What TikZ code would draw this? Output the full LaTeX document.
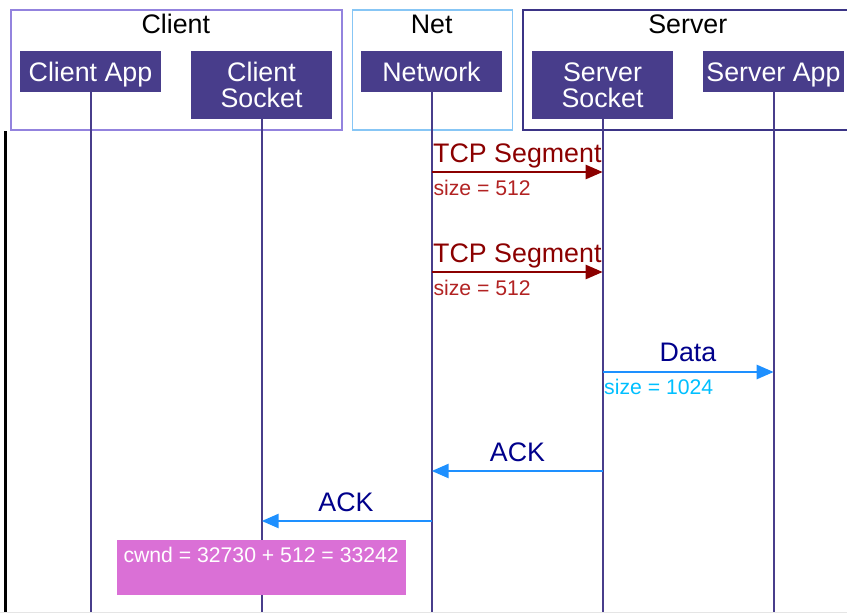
\documentclass[tikz,border=0pt]{standalone}
\usepackage{fontspec}
\setmainfont{Liberation Sans}
\usetikzlibrary{arrows.meta}
\definecolor{actorfill}{HTML}{483D8B}
\definecolor{clientc}{HTML}{9383DE}
\definecolor{netc}{HTML}{87C6F5}
\definecolor{serverc}{HTML}{3B3486}
\definecolor{tcpc}{HTML}{8B0000}
\definecolor{tcpsize}{HTML}{B22222}
\definecolor{bluearrow}{HTML}{1E90FF}
\definecolor{navylbl}{HTML}{00008B}
\definecolor{skysize}{HTML}{00BFFF}
\definecolor{notefill}{HTML}{DA70D6}
\tikzset{
  grp/.style={draw, line width=1.4pt, fill=none, inner sep=0pt, anchor=north west},
  glabel/.style={inner sep=0pt, anchor=base, font=\fontsize{26.8}{27}\selectfont, text=black},
  actor/.style={fill=actorfill, draw=none, inner sep=0pt, minimum width=141pt, anchor=north west},
  atext/.style={inner sep=0pt, anchor=base, font=\fontsize{26.8}{27}\selectfont, text=white},
  life/.style={draw=actorfill, line width=2pt},
  tcpmsg/.style={draw=tcpc, line width=2.6pt, -{Triangle[length=17pt,width=14pt]}},
  bluemsg/.style={draw=bluearrow, line width=2.6pt, -{Triangle[length=17pt,width=14pt]}},
  mlabel/.style={inner sep=0pt, font=\fontsize{26.8}{27}\selectfont},
  slabel/.style={inner sep=0pt, anchor=base west, font=\fontsize{21.2}{22}\selectfont},
  notebox/.style={fill=notefill, draw=none, inner sep=0pt, anchor=north west},
}
\begin{document}
\begin{tikzpicture}[x=1pt,y=-1pt]
\useasboundingbox (0,0) rectangle (847,613);
% group boxes
\node[grp, draw=clientc, minimum width=331pt, minimum height=120pt] (gclient) at (10.3,9.3) {};
\node[grp, draw=netc, minimum width=160pt, minimum height=120pt] (gnet) at (351.7,9.3) {};
\node[grp, draw=serverc, minimum width=331pt, minimum height=120pt] (gserver) at (522.3,9.3) {};
\node[glabel] (gclient-l) at (175.8,33.3) {Client};
\node[glabel] (gnet-l) at (431.7,33.3) {Net};
\node[glabel] (gserver-l) at (687.8,33.3) {Server};
% actor boxes
\node[actor, minimum height=41pt] (ca) at (20,51) {};
\node[actor, minimum height=67.7pt] (cs) at (191,51) {};
\node[actor, minimum height=41pt] (nw) at (361,51) {};
\node[actor, minimum height=67.7pt] (ss) at (532,51) {};
\node[actor, minimum height=41pt] (sa) at (703,51) {};
\node[atext] (ca-t) at (90.5,81) {Client App};
\node[atext] (cs-t1) at (261.5,81) {Client};
\node[atext] (cs-t2) at (261.5,107.5) {Socket};
\node[atext] (nw-t) at (431.5,81) {Network};
\node[atext] (ss-t1) at (602.5,81) {Server};
\node[atext] (ss-t2) at (602.5,107.5) {Socket};
\node[atext] (sa-t) at (773.5,81) {Server App};
% lifeline ends
\coordinate (ca-e) at (ca.south |- 0,613);
\coordinate (cs-e) at (cs.south |- 0,613);
\coordinate (nw-e) at (nw.south |- 0,613);
\coordinate (ss-e) at (ss.south |- 0,613);
\coordinate (sa-e) at (sa.south |- 0,613);
\draw[life] (ca.south) -- (ca-e);
\draw[life] (cs.south) -- (cs-e);
\draw[life] (nw.south) -- (nw-e);
\draw[life] (ss.south) -- (ss-e);
\draw[life] (sa.south) -- (sa-e);
% left black rule and bottom border
\coordinate (lb-t) at (5.5,131);
\coordinate (lb-b) at (5.5,613);
\draw[line width=3pt, black] (lb-t) -- (lb-b);
\coordinate (bb-l) at (0,612.5);
\coordinate (bb-r) at (847,612.5);
\draw[line width=1pt, black!10] (bb-l) -- (bb-r);
% message 1
\coordinate (m1a) at (nw.south |- 0,172);
\coordinate (m1b) at (ss.south |- 0,172);
\draw[tcpmsg] (m1a) -- (m1b);
\node[mlabel, anchor=base west, text=tcpc] (m1l) at (433,162.3) {TCP Segment};
\node[slabel, text=tcpsize] (m1s) at (433.3,195) {size = 512};
% message 2
\coordinate (m2a) at (nw.south |- 0,272);
\coordinate (m2b) at (ss.south |- 0,272);
\draw[tcpmsg] (m2a) -- (m2b);
\node[mlabel, anchor=base west, text=tcpc] (m2l) at (433,262) {TCP Segment};
\node[slabel, text=tcpsize] (m2s) at (433.3,295) {size = 512};
% message 3
\coordinate (m3a) at (ss.south |- 0,372);
\coordinate (m3b) at (sa.south |- 0,372);
\draw[bluemsg] (m3a) -- (m3b);
\node[mlabel, anchor=base, text=navylbl] (m3l) at (688,361) {Data};
\node[slabel, text=skysize] (m3s) at (604,394.3) {size = 1024};
% message 4
\coordinate (m4a) at (ss.south |- 0,471);
\coordinate (m4b) at (nw.south |- 0,471);
\draw[bluemsg] (m4a) -- (m4b);
\node[mlabel, anchor=base, text=navylbl] (m4l) at (517.5,461) {ACK};
% message 5
\coordinate (m5a) at (nw.south |- 0,521);
\coordinate (m5b) at (cs.south |- 0,521);
\draw[bluemsg] (m5a) -- (m5b);
\node[mlabel, anchor=base, text=navylbl] (m5l) at (346,511) {ACK};
% note
\node[notebox, minimum width=288.7pt, minimum height=54.3pt] (note) at (117,540) {};
\node[slabel, text=white] (note-t) at (123.3,562.7) {cwnd = 32730 + 512 = 33242};
\end{tikzpicture}
\end{document}
